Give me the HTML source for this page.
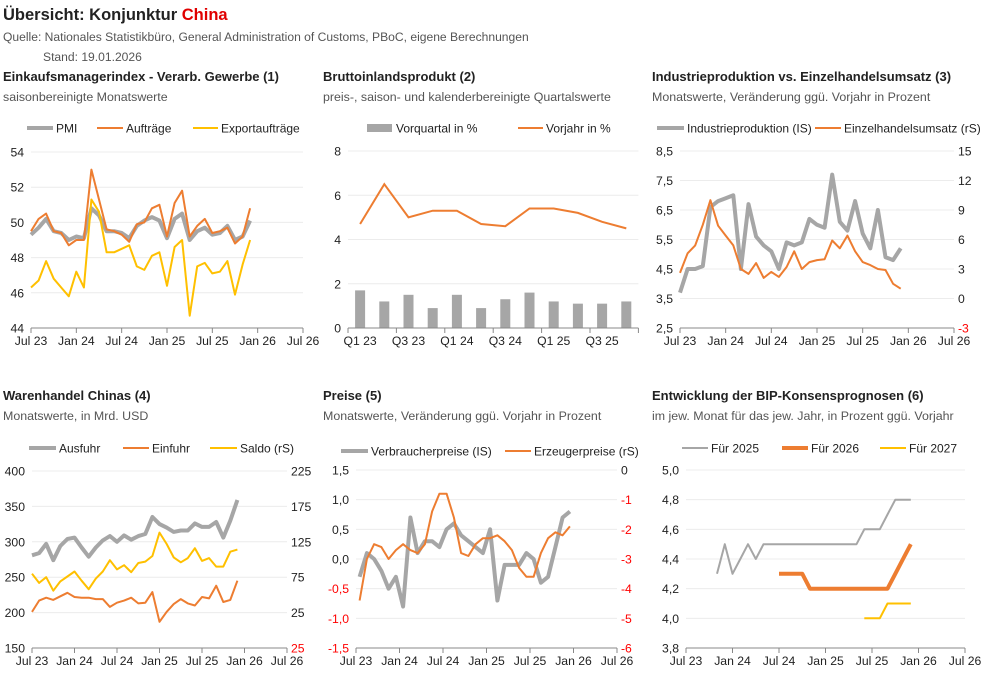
<!DOCTYPE html>
<html><head><meta charset="utf-8"><style>
body{margin:0;background:#fff;width:985px;height:686px;overflow:hidden;font-family:"Liberation Sans",Arial,sans-serif}
svg text{font-family:"Liberation Sans",Arial,sans-serif}
</style></head><body>
<svg id="main" width="985" height="686" viewBox="0 0 985 686" xmlns="http://www.w3.org/2000/svg">
<text x="3" y="20" font-size="16.5" font-weight="bold" fill="#222">Übersicht: Konjunktur <tspan fill="#e00000">China</tspan></text>
<text x="3" y="41" font-size="12.1" fill="#555">Quelle: Nationales Statistikbüro, General Administration of Customs, PBoC, eigene Berechnungen</text>
<text x="43" y="61" font-size="12.1" fill="#555">Stand:  19.01.2026</text>
</svg>
<script>
// ---- data ----
const monthTicks=["Jul 23","Jan 24","Jul 24","Jan 25","Jul 25","Jan 26","Jul 26"];
const pmi=[49.3,49.7,50.2,49.5,49.4,49.0,49.2,49.1,50.8,50.4,49.5,49.5,49.4,49.1,49.8,50.1,50.3,50.1,49.1,50.2,50.5,49.0,49.5,49.7,49.3,49.4,49.8,49.0,49.2,50.1];
const orders=[49.5,50.2,50.5,49.5,49.4,48.7,49.0,49.0,53.0,51.3,49.6,49.5,49.3,48.9,49.9,50.0,50.8,51.0,49.2,51.1,51.8,49.2,49.8,50.2,49.4,49.5,49.7,48.8,49.2,50.8];
const exportOrders=[46.3,46.7,47.8,46.8,46.3,45.8,47.2,46.3,51.3,50.6,48.3,48.3,48.5,48.7,47.5,47.3,48.1,48.3,46.4,48.6,49.0,44.7,47.5,47.7,47.1,47.2,47.8,45.9,47.6,49.0];
const gdpQuarters=["Q1 23","Q2 23","Q3 23","Q4 23","Q1 24","Q2 24","Q3 24","Q4 24","Q1 25","Q2 25","Q3 25","Q4 25"];
const gdpQoq=[1.7,1.2,1.5,0.9,1.5,0.9,1.3,1.6,1.2,1.1,1.1,1.2];
const gdpYoy=[4.7,6.5,5.0,5.3,5.3,4.7,4.6,5.4,5.4,5.2,4.8,4.5];
const indProd=[3.7,4.5,4.5,4.6,6.6,6.8,6.9,7.0,4.5,6.7,5.6,5.3,5.1,4.5,5.4,5.3,5.4,6.2,6.0,5.9,7.7,6.1,5.8,6.8,5.7,5.2,6.5,4.9,4.8,5.2];
const retail=[2.6,4.6,5.4,7.5,10.0,7.4,6.4,5.4,3.0,2.5,3.6,2.1,2.7,2.2,3.2,4.8,3.0,3.7,3.9,4.0,5.9,5.1,6.4,4.8,3.7,3.4,3.0,2.9,1.5,1.0];
const exportsUsd=[281,284,297,274,294,304,306,292,279,292,302,308,300,309,303,308,311,335,325,320,314,316,316,326,321,321,328,306,330,359];
const importsUsd=[201,217,221,218,223,228,222,221,221,219,219,208,214,217,221,213,214,229,187,201,212,219,213,210,222,220,238,215,218,245];
const tradeBalance=[80,67,75,56,69,76,83,70,58,73,83,99,86,92,82,95,97,105,138,122,103,96,102,116,98,102,90,90,111,114];
const cpi=[-0.3,0.1,0.0,-0.2,-0.5,-0.3,-0.8,0.7,0.1,0.3,0.3,0.2,0.5,0.6,0.4,0.3,0.2,0.1,0.5,-0.7,-0.1,-0.1,-0.1,0.1,0.0,-0.4,-0.3,0.2,0.7,0.8];
const ppi=[-4.4,-3.0,-2.5,-2.6,-3.0,-2.7,-2.5,-2.7,-2.8,-2.5,-1.4,-0.8,-0.8,-1.6,-2.8,-2.9,-2.5,-2.3,-2.3,-2.2,-2.4,-2.7,-3.3,-3.6,-3.6,-2.8,-2.3,-2.1,-2.2,-1.9];
const fc2025=[null,null,null,null,4.3,4.5,4.3,4.4,4.5,4.4,4.5,4.5,4.5,4.5,4.5,4.5,4.5,4.5,4.5,4.5,4.5,4.5,4.5,4.6,4.6,4.6,4.7,4.8,4.8,4.8];
const fc2026=[null,null,null,null,null,null,null,null,null,null,null,null,4.3,4.3,4.3,4.3,4.2,4.2,4.2,4.2,4.2,4.2,4.2,4.2,4.2,4.2,4.2,4.3,4.4,4.5];
const fc2027=[null,null,null,null,null,null,null,null,null,null,null,null,null,null,null,null,null,null,null,null,null,null,null,4.0,4.0,4.0,4.1,4.1,4.1,4.1];

// ---- drawing ----
const NS="http://www.w3.org/2000/svg";
const svg=document.getElementById('main');
const GRAY="#a6a6a6",OR="#ed7d31",YE="#ffc000";
const LFS=12, AFS=12.2;
function mk(tag,attrs,parent){const e=document.createElementNS(NS,tag);for(const k in attrs)e.setAttribute(k,attrs[k]);(parent||svg).appendChild(e);return e;}
function txt(s,x,y,attrs,parent){const t=mk('text',Object.assign({x:x,y:y,'font-size':12,fill:'#222'},attrs),parent);t.textContent=s;return t;}
function fmt(v,dec,abs){return (abs?Math.abs(v):v).toFixed(dec).replace('.',',');}
function scale(d0,d1,r0,r1){return v=>r0+(v-d0)*(r1-r0)/(d1-d0);}

function header(g,x,y,title,sub){
  const t=txt(title,x,y,{'font-size':13,'font-weight':'bold'},g);
  
  
  const s=txt(sub,x,y+20,{'font-size':12.4,fill:'#555'},g);
  
  
}
function legendLine(g,x1,x2,y,color,w,label){
  const l=mk('line',{x1:x1,x2:x2,y1:y,y2:y,stroke:color,'stroke-width':w},g);
  
  
  const t=txt(label,x2+3,y+4.5,{'font-size':LFS},g);
  
  
}
function yAxis(g,p,min,max,step,dec,side,sc,absNeg){
  for(let v=min;v<=max+1e-9;v+=step){
    const y=sc(v);
    if(side==='left'){
      const gl=mk('line',{x1:p.x0,x2:p.x1,y1:y,y2:y,stroke:'#ececec','stroke-width':1},g);
      
      
    }
    const neg=v<-1e-9;
    const t=txt(fmt(v,dec,absNeg),side==='left'?p.x0-7:p.x1+4,y+4.5,{'font-size':AFS,'text-anchor':side==='left'?'end':'start',fill:neg?'#ff0000':'#222'},g);
    
    
  }
}
function monthAxis(g,p){
  const ax=mk('line',{x1:p.x0,x2:p.x1,y1:p.yb,y2:p.yb,stroke:'#888','stroke-width':1},g);
  
  
  monthTicks.forEach((lab,i)=>{
    const x=p.x0+i*6*(p.x1-p.x0)/36;
    const tk=mk('line',{x1:x,x2:x,y1:p.yb,y2:p.yb+5,stroke:'#888'},g);
    
    
    const t=txt(lab,x,p.yb+17,{'font-size':AFS,'text-anchor':'middle'},g);
    
    
  });
}
function series(g,p,vals,sc,color,w,off,name){
  const mx=i=>p.x0+(i+(off||0))*(p.x1-p.x0)/36;
  let d='';let pen=false;
  vals.forEach((v,i)=>{if(v===null||v===undefined){pen=false;return;}d+=(pen?'L':'M')+mx(i).toFixed(1)+','+sc(v).toFixed(1);pen=true;});
  const path=mk('path',{d:d,fill:'none',stroke:color,'stroke-width':w,'stroke-linejoin':'round'},g);
  
  
}
function panel(name){const g=mk('g',{});return g;}

// Panel 1
(function(){
  const g=panel('pmi-panel');
  header(g,3,81,'Einkaufsmanagerindex - Verarb. Gewerbe (1)','saisonbereinigte Monatswerte');
  legendLine(g,27,53,128,GRAY,4,'PMI');legendLine(g,97,123,128,OR,2,'Aufträge');legendLine(g,193,218,128,YE,2,'Exportaufträge');
  const p={x0:31,x1:303,yb:328};const sc=scale(44,54,328,152);
  yAxis(g,p,44,54,2,0,'left',sc);monthAxis(g,p);
  series(g,p,pmi,sc,GRAY,4,0,'pmi-line');series(g,p,orders,sc,OR,2,0,'orders-line');series(g,p,exportOrders,sc,YE,2,0,'export-orders-line');
})();
// Panel 2
(function(){
  const g=panel('gdp-panel');
  header(g,323,81,'Bruttoinlandsprodukt (2)','preis-, saison- und kalenderbereinigte Quartalswerte');
  const sw=mk('rect',{x:367,y:124,width:25,height:8,fill:GRAY},g);
  
  
  const lt=txt('Vorquartal in %',396,132.5,{'font-size':LFS},g);
  
  
  legendLine(g,518,543,128,OR,2,'Vorjahr in %');
  const x0=348,cw=24.2,n=gdpQuarters.length;const p={x0:x0,x1:x0+cw*n,yb:328};
  const sc=scale(0,8,328,151);
  yAxis(g,p,0,8,2,0,'left',sc);
  const cx=i=>x0+cw*(i+0.5);
  gdpQoq.forEach((v,i)=>{const r=mk('rect',{x:cx(i)-5,y:sc(v),width:10,height:sc(0)-sc(v),fill:GRAY},g);
    
    });
  const ax=mk('line',{x1:p.x0,x2:p.x1,y1:328,y2:328,stroke:'#888'},g);
  
  
  for(let i=0;i<=n;i+=2){const tk=mk('line',{x1:x0+cw*i,x2:x0+cw*i,y1:328,y2:333,stroke:'#888'},g);
    
    }
  gdpQuarters.forEach((q,i)=>{if(i%2)return;const t=txt(q,cx(i),345,{'font-size':AFS,'text-anchor':'middle'},g);
    
    });
  const d=gdpYoy.map((v,i)=>(i?'L':'M')+cx(i).toFixed(1)+','+sc(v).toFixed(1)).join('');
  const pl=mk('path',{d:d,fill:'none',stroke:OR,'stroke-width':2},g);
  
  
})();
// Panel 3
(function(){
  const g=panel('industry-retail-panel');
  header(g,652,81,'Industrieproduktion vs. Einzelhandelsumsatz (3)','Monatswerte, Veränderung ggü. Vorjahr in Prozent');
  legendLine(g,657,684,128,GRAY,4,'Industrieproduktion (IS)');legendLine(g,815,841,128,OR,2,'Einzelhandelsumsatz (rS)');
  const p={x0:680,x1:954,yb:328};const sl=scale(2.5,8.5,328,151),sr=scale(-3,15,328,151);
  yAxis(g,p,2.5,8.5,1,1,'left',sl);yAxis(g,p,-3,15,3,0,'right',sr);monthAxis(g,p);
  series(g,p,indProd,sl,GRAY,4,0,'industrial-production-line');series(g,p,retail,sr,OR,2,0,'retail-sales-line');
})();
// Panel 4
(function(){
  const g=panel('trade-panel');
  header(g,3,400,'Warenhandel Chinas (4)','Monatswerte, in Mrd. USD');
  legendLine(g,29,56,448,GRAY,4,'Ausfuhr');legendLine(g,123,149,448,OR,2,'Einfuhr');legendLine(g,210,237,448,YE,2,'Saldo (rS)');
  const p={x0:32,x1:287,yb:648};const sl=scale(150,400,648,471),sr=scale(-25,225,648,471);
  yAxis(g,p,150,400,50,0,'left',sl);yAxis(g,p,-25,225,50,0,'right',sr,true);monthAxis(g,p);
  series(g,p,exportsUsd,sl,GRAY,4,0,'exports-line');series(g,p,importsUsd,sl,OR,2,0,'imports-line');series(g,p,tradeBalance,sr,YE,2,0,'trade-balance-line');
})();
// Panel 5
(function(){
  const g=panel('prices-panel');
  header(g,323,400,'Preise (5)','Monatswerte, Veränderung ggü. Vorjahr in Prozent');
  legendLine(g,341,368,451,GRAY,4,'Verbraucherpreise (IS)');legendLine(g,505,531,451,OR,2,'Erzeugerpreise (rS)');
  const p={x0:356,x1:617,yb:648};const sl=scale(-1.5,1.5,648,470),sr=scale(-6,0,648,470);
  yAxis(g,p,-1.5,1.5,0.5,1,'left',sl);yAxis(g,p,-6,0,1,0,'right',sr);monthAxis(g,p);
  series(g,p,cpi,sl,GRAY,4,0.5,'cpi-line');series(g,p,ppi,sr,OR,2,0.5,'ppi-line');
})();
// Panel 6
(function(){
  const g=panel('forecast-panel');
  header(g,652,400,'Entwicklung der BIP-Konsensprognosen (6)','im jew. Monat für das jew. Jahr, in Prozent ggü. Vorjahr');
  legendLine(g,682,708,448,GRAY,2,'Für 2025');legendLine(g,782,808,448,OR,4,'Für 2026');legendLine(g,880,906,448,YE,2,'Für 2027');
  const p={x0:686,x1:965,yb:648};const sc=scale(3.8,5.0,648,470);
  yAxis(g,p,3.8,5.0,0.2,1,'left',sc);monthAxis(g,p);
  series(g,p,fc2025,sc,GRAY,2,0,'forecast-2025-line');series(g,p,fc2026,sc,OR,4,0,'forecast-2026-line');series(g,p,fc2027,sc,YE,2,0,'forecast-2027-line');
})();
</script>
</body></html>
